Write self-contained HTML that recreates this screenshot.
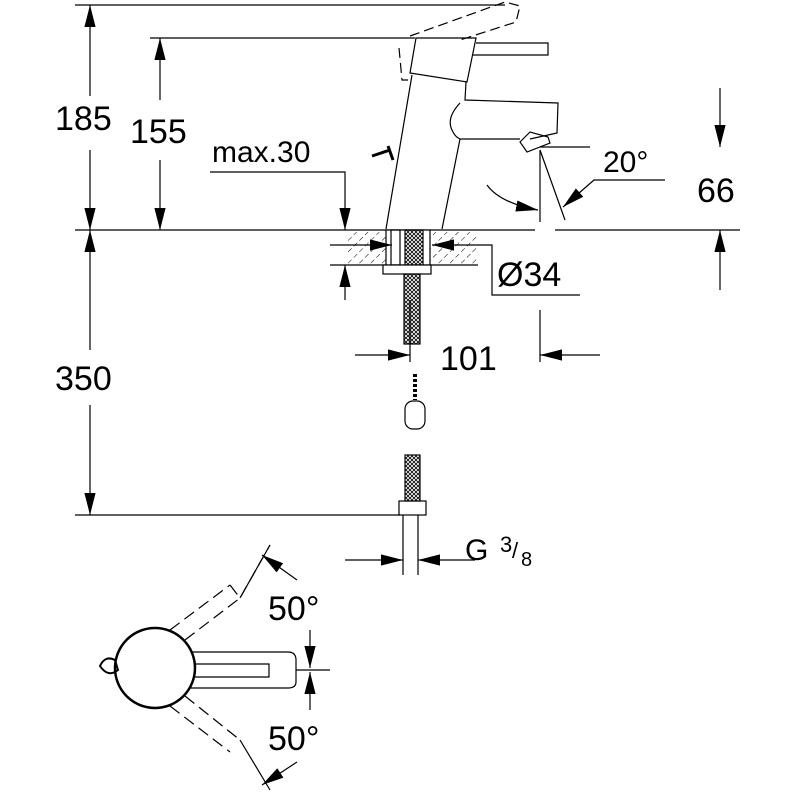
<!DOCTYPE html>
<html><head><meta charset="utf-8"><style>
html,body{margin:0;padding:0;background:#fff;}
svg{display:block;}
text{font-family:"Liberation Sans",sans-serif;fill:#000;}
</style></head><body>
<svg width="800" height="800" viewBox="0 0 800 800" xmlns="http://www.w3.org/2000/svg">
<defs>
<marker id="b" viewBox="0 0 10 10" refX="10" refY="5" markerWidth="22" markerHeight="14" orient="auto-start-reverse" markerUnits="userSpaceOnUse" preserveAspectRatio="none"><path d="M0,1 L10,5 L0,9z" fill="#000"/></marker>
<pattern id="h" width="8" height="8" patternUnits="userSpaceOnUse" patternTransform="rotate(45)"><line x1="0" y1="0" x2="0" y2="8" stroke="#000" stroke-width="1" stroke-dasharray="4,3"/></pattern>
<pattern id="br" width="4" height="4" patternUnits="userSpaceOnUse"><path d="M0,0 L4,4 M4,0 L0,4" stroke="#000" stroke-width="0.8"/></pattern>
</defs>
<g stroke="#000" stroke-width="1.2" fill="none">
<line x1="75" y1="5" x2="505" y2="5"/>
<line x1="150" y1="38" x2="415" y2="38"/>
<line x1="75" y1="230" x2="535" y2="230"/>
<line x1="555" y1="230" x2="740" y2="230"/>
<line x1="90" y1="5" x2="90" y2="96" marker-start="url(#b)"/>
<line x1="90" y1="150" x2="90" y2="230" marker-end="url(#b)"/>
<line x1="160" y1="38" x2="160" y2="100" marker-start="url(#b)"/>
<line x1="160" y1="160" x2="160" y2="230" marker-end="url(#b)"/>
<line x1="90" y1="230" x2="90" y2="350" marker-start="url(#b)"/>
<line x1="90" y1="405" x2="90" y2="515" marker-end="url(#b)"/>
<line x1="75" y1="515" x2="400" y2="515"/>
<polyline points="210,172 345,172 345,230" marker-end="url(#b)"/>
<line x1="345" y1="300" x2="345" y2="265" marker-end="url(#b)"/>
<path d="M416,38 L476,38 L467,82 L410,73 Z"/>
<path d="M476,43 L548,43 L548,55 L472,55"/>
<path d="M412,75 L386,229 M466,82 L465,100 L558,103 L557,133 L530,139 M460,139 L442,229"/>
<path d="M460,103 Q446,118 452,130 Q455,137 460,139 L520,139"/>
<path d="M520,142 L530,132 L548,137 L550,143 L527,152 Z"/>
<path d="M399,48 L402,80 L408,80 M410,36 L505,2 L520,6 L516,22 L460,40" stroke-dasharray="10,5"/>
<path d="M372,156 L390,150 M388,146 L393,160" stroke-width="3"/>
<line x1="540" y1="147" x2="590" y2="147"/>
<line x1="540" y1="150" x2="540" y2="222"/>
<line x1="540" y1="150" x2="565" y2="220"/>
<path d="M487,185 Q500,203 538,210" marker-end="url(#b)"/>
<polyline points="665,180 594,180 563,207" marker-end="url(#b)"/>
<line x1="720" y1="88" x2="720" y2="147" marker-end="url(#b)"/>
<line x1="720" y1="290" x2="720" y2="230" marker-end="url(#b)"/>
<rect x="347" y="232" width="130" height="33" fill="url(#h)" stroke="none"/>
<line x1="330" y1="265" x2="478" y2="265"/>
<rect x="386" y="230" width="44" height="35" fill="#fff"/>
<rect x="391" y="230" width="9" height="35"/>
<rect x="405" y="230" width="18" height="35" fill="url(#br)"/>
<rect x="383" y="265" width="48" height="9" fill="#fff"/>
<line x1="330" y1="245" x2="392" y2="245" marker-end="url(#b)"/>
<polyline points="580,295 492,295 492,245 432,245" marker-end="url(#b)"/>
<rect x="404" y="274" width="16" height="70" fill="url(#br)"/>
<line x1="410" y1="300" x2="410" y2="362"/>
<line x1="540" y1="310" x2="540" y2="362"/>
<line x1="355" y1="355" x2="410" y2="355" marker-end="url(#b)"/>
<line x1="600" y1="355" x2="540" y2="355" marker-end="url(#b)"/>
<line x1="415" y1="374" x2="415" y2="400" stroke-width="4" stroke-dasharray="3,2"/>
<rect x="405" y="401" width="20" height="28" rx="8"/>
<rect x="405" y="455" width="15" height="46" fill="url(#br)"/>
<rect x="399" y="501" width="27" height="14"/>
<line x1="403" y1="515" x2="403" y2="575"/><line x1="418" y1="515" x2="418" y2="575"/>
<line x1="345" y1="560" x2="403" y2="560" marker-end="url(#b)"/>
<line x1="475" y1="560" x2="418" y2="560" marker-end="url(#b)"/>
<path d="M170,630 L230,585 M185,640 L240,598 M230,585 L240,598 L270,545" stroke-dasharray="12,6"/>
<line x1="240" y1="598" x2="270" y2="545"/>
<line x1="297" y1="580" x2="262" y2="555" marker-end="url(#b)"/>
<path d="M170,706 L230,752 M185,696 L240,740" stroke-dasharray="12,6"/>
<line x1="240" y1="740" x2="270" y2="790"/>
<line x1="297" y1="762" x2="262" y2="785" marker-end="url(#b)"/>
<path d="M180,652 L288,652 Q296,652 296,660 L296,682 Q296,688 288,688 L180,688"/>
<path d="M194,664 L269,664 L269,677 L194,677"/>
<circle cx="155" cy="668" r="40" stroke-width="2.5" fill="#fff"/>
<path d="M100,666 Q105,655 115,660 L118,670 Q108,678 100,666Z" stroke-width="2"/>
<line x1="296" y1="670" x2="330" y2="670"/>
<line x1="310" y1="630" x2="310" y2="668" marker-end="url(#b)"/>
<line x1="310" y1="710" x2="310" y2="672" marker-end="url(#b)"/>
</g>
<g font-size="34">
<text x="55" y="130">185</text>
<text x="130" y="143">155</text>
<text x="212" y="162" font-size="30">max.30</text>
<text x="603" y="172" font-size="30">20°</text>
<text x="697" y="202">66</text>
<text x="497" y="286">Ø34</text>
<text x="55" y="390">350</text>
<text x="440" y="370">101</text>
<text x="465" y="560" font-size="30">G</text>
<text x="500" y="552" font-size="22">3</text>
<text x="512" y="558" font-size="22">/</text>
<text x="521" y="566" font-size="20">8</text>
<text x="268" y="620">50°</text>
<text x="268" y="750">50°</text>
</g>
</svg>
</body></html>
